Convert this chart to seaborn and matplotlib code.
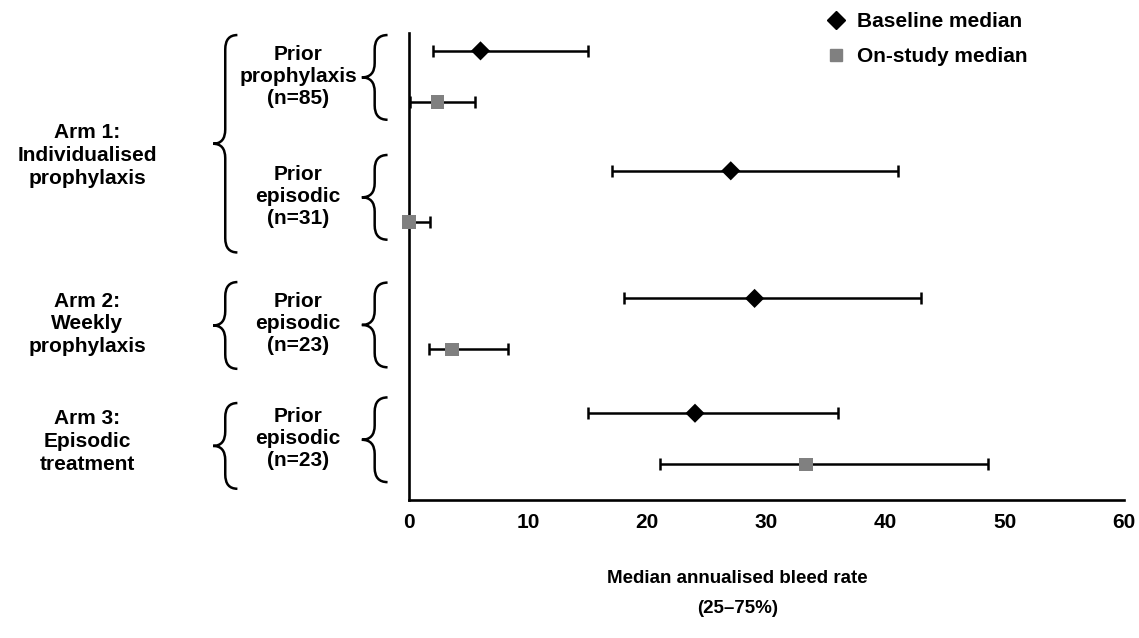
import numpy as np
import pandas as pd
import matplotlib
matplotlib.use("Agg")
import matplotlib.pyplot as plt
import matplotlib.transforms as mtransforms
from matplotlib.path import Path
from matplotlib.patches import PathPatch
from matplotlib.lines import Line2D
import seaborn as sns

# ---- data ----
arm_labels = ["Arm 1:\nIndividualised\nprophylaxis",
              "Arm 2:\nWeekly\nprophylaxis",
              "Arm 3:\nEpisodic\ntreatment"]
group_labels = ["Prior\nprophylaxis\n(n=85)", "Prior\nepisodic\n(n=31)",
                "Prior\nepisodic\n(n=23)", "Prior\nepisodic\n(n=23)"]

baseline_median = [6.0, 27.0, 29.0, 24.0]
baseline_q1 = [2.0, 17.0, 18.0, 15.0]
baseline_q3 = [15.0, 41.0, 43.0, 36.0]

onstudy_median = [2.4, 0.0, 3.6, 33.3]
onstudy_q1 = [0.1, 0.0, 1.7, 21.1]
onstudy_q3 = [5.5, 1.8, 8.3, 48.6]

xticks = [0, 10, 20, 30, 40, 50, 60]

# ---- layout ----
group_y = [0.0, 2.35, 4.85, 7.1]      # baseline row of each group, on-study row is +1
arm_label_y = [2.05, 5.35, 7.65]

rows = []
for g in range(len(group_labels)):
    rows.append(dict(y=group_y[g], kind="Baseline median", med=baseline_median[g],
                     lo=baseline_q1[g], hi=baseline_q3[g]))
    rows.append(dict(y=group_y[g] + 1, kind="On-study median", med=onstudy_median[g],
                     lo=onstudy_q1[g], hi=onstudy_q3[g]))
df = pd.DataFrame(rows)

sns.set_style("white")
plt.rcParams['font.family'] = ['Liberation Sans', 'DejaVu Sans']
plt.rcParams['font.weight'] = 'bold'
plt.rcParams['text.color'] = 'black'
plt.rcParams['axes.labelcolor'] = 'black'
plt.rcParams['xtick.color'] = 'black'

fig = plt.figure(figsize=(11.39, 6.38), dpi=100)
ax = fig.add_axes([409 / 1139, 138 / 638, 715 / 1139, 467 / 638])

# whiskers (25-75%)
ax.errorbar(df['med'], df['y'],
            xerr=[df['med'] - df['lo'], df['hi'] - df['med']],
            fmt='none', ecolor='black', elinewidth=1.8, capsize=4.3, capthick=1.8,
            zorder=2, clip_on=False)

colors = {"Baseline median": "black", "On-study median": "#808080"}
markers = {"Baseline median": "D", "On-study median": "s"}
sns.scatterplot(data=df, x='med', y='y', hue='kind', style='kind',
                palette=colors, markers=markers, s=95, linewidth=0,
                legend=False, ax=ax, zorder=3, clip_on=False)

ax.set_xlim(0, 60)
ax.set_ylim(8.8, -0.35)
ax.set_xticks(xticks)
ax.set_xticklabels([str(t) for t in xticks], fontsize=15, fontweight='bold')
ax.set_yticks([])
ax.set_ylabel('')
for side in ['top', 'right']:
    ax.spines[side].set_visible(False)
for side in ['left', 'bottom']:
    ax.spines[side].set_linewidth(1.9)
    ax.spines[side].set_color('black')
ax.tick_params(axis='x', direction='out', length=6, width=1.9, color='black',
               labelcolor='black', pad=3)

ax.set_xlabel("Median annualised bleed rate\n(25\u201375%)", fontsize=13.5,
              fontweight='bold', linespacing=2.0, color='black')
ax.xaxis.set_label_coords(0.459, -0.15)

# braces and labels left of the axis
trans = mtransforms.blended_transform_factory(ax.transAxes, ax.transData)


def brace(x_tip, x_end, y0, y1, ym=None):
    if ym is None:
        ym = (y0 + y1) / 2
    xs = (x_tip + x_end) / 2
    r = 0.28
    verts = [(x_end, y0), (xs, y0), (xs, y0 + r),
             (xs, ym - r), (xs, ym), (x_tip, ym),
             (xs, ym), (xs, ym + r),
             (xs, y1 - r), (xs, y1), (x_end, y1)]
    codes = [Path.MOVETO, Path.CURVE3, Path.CURVE3,
             Path.LINETO, Path.CURVE3, Path.CURVE3,
             Path.CURVE3, Path.CURVE3,
             Path.LINETO, Path.CURVE3, Path.CURVE3]
    ax.add_patch(PathPatch(Path(verts, codes), fill=False, lw=1.8, ec='black',
                           transform=trans, clip_on=False))


inner_tip, inner_end = -0.066, -0.030
outer_tip, outer_end = -0.274, -0.240

for g, lab in enumerate(group_labels):
    y0 = group_y[g]
    brace(inner_tip, inner_end, y0 - 0.31, y0 + 1.35)
    ax.text(-0.155, y0 + 0.5, lab, transform=trans, ha='center', va='center',
            fontsize=15, fontweight='bold', linespacing=1.2, color='black')

arm_spans = [(group_y[0] - 0.31, group_y[1] + 1.6),
             (group_y[2] - 0.32, group_y[2] + 1.38),
             (group_y[3] - 0.2, group_y[3] + 1.48)]
for a, lab in enumerate(arm_labels):
    y0, y1 = arm_spans[a]
    brace(outer_tip, outer_end, y0, y1)
    ax.text(-0.450, arm_label_y[a], lab, transform=trans, ha='center', va='center',
            fontsize=15, fontweight='bold', linespacing=1.25, color='black')

handles = [Line2D([], [], marker='D', color='black', ls='none', markersize=9.5),
           Line2D([], [], marker='s', color='#808080', ls='none', markersize=9)]
fig.legend(handles, ["Baseline median", "On-study median"], loc='upper left',
           bbox_to_anchor=(807 / 1139, 1.01), frameon=False,
           prop={'size': 15, 'weight': 'bold'}, handlelength=1.0,
           handletextpad=0.5, labelspacing=0.75, labelcolor='black')

fig.savefig('out.png', dpi=100)
